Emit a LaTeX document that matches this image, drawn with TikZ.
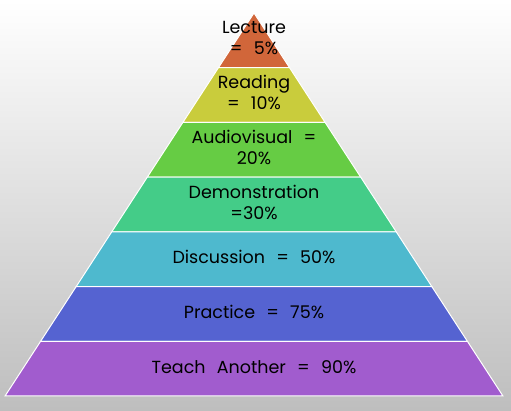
\documentclass[tikz,border=0pt]{standalone}
\usepackage{fontspec}
\setmainfont[WordSpace=2.4]{Poppins}
\usetikzlibrary{positioning, calc}
\definecolor{bggray}{RGB}{190,190,190}
\definecolor{lecturecol}{RGB}{209,102,58}
\definecolor{readingcol}{RGB}{201,204,60}
\definecolor{audiocol}{RGB}{102,204,68}
\definecolor{democol}{RGB}{68,204,136}
\definecolor{discol}{RGB}{78,185,206}
\definecolor{practicecol}{RGB}{85,99,209}
\definecolor{teachcol}{RGB}{161,92,206}

\begin{document}
\begin{tikzpicture}[x=1pt, y=1pt,
        layer/.style={draw=white, line width=1pt, line join=miter},
        lbl/.style={font=\fontsize{17.5}{21}\selectfont, align=center, text=black, inner sep=0pt}
    ]
        % background
        \shade[top color=white, bottom color=bggray] (0,0) rectangle (511,410);
        \useasboundingbox (0,0) rectangle (511,410);
        % pyramid layers, top to bottom
        \foreach \c [count=\i from 0] in {lecturecol, readingcol, audiocol, democol, discol, practicecol, teachcol} {
            \pgfmathsetmacro\ya{\i*54.71}
            \pgfmathsetmacro\yb{(\i+1)*54.71}
            \filldraw[layer, fill=\c] (254-0.65*\ya, 397-\ya) -- (254+0.65*\ya, 397-\ya)
                -- (254+0.65*\yb, 397-\yb) -- (254-0.65*\yb, 397-\yb) -- cycle;
        }
        \node[lbl] (lecture) at (254,372) {Lecture\\= 5\%};
        \node[lbl] (reading) at (254,318) {Reading\\= 10\%};
        \node[lbl] (audio) at (254,263) {Audiovisual =\\20\%};
        \node[lbl] (demo) at (254,208) {Demonstration\\=30\%};
        \node[lbl] (discussion) at (254,153) {Discussion = 50\%};
        \node[lbl] (practice) at (254,98) {Practice = 75\%};
        \node[lbl] (teach) at (254,43) {Teach Another = 90\%};
    \end{tikzpicture}
\end{document}
